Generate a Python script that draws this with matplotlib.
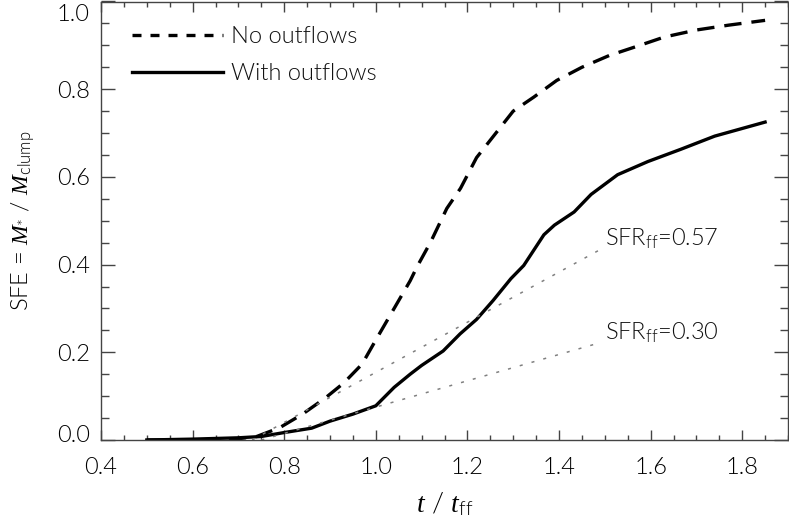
import matplotlib
matplotlib.use("Agg")
import matplotlib.pyplot as plt
import matplotlib.transforms as mtransforms
from matplotlib.lines import Line2D
from matplotlib.ticker import MultipleLocator

# ---- data ----
t_no = [0.50, 0.60, 0.70, 0.74, 0.79, 0.84, 0.89, 0.93, 0.97, 1.00, 1.04, 1.075,
        1.09, 1.12, 1.155, 1.185, 1.22, 1.26, 1.30, 1.345, 1.395, 1.45, 1.51,
        1.565, 1.63, 1.70, 1.77, 1.85]
sfe_no = [0.0, 0.0, 0.003, 0.008, 0.028, 0.059, 0.096, 0.13, 0.173, 0.228, 0.30,
          0.363, 0.395, 0.452, 0.528, 0.574, 0.644, 0.697, 0.75, 0.782, 0.82,
          0.85, 0.877, 0.896, 0.919, 0.935, 0.946, 0.957]

t_with = [0.50, 0.60, 0.70, 0.75, 0.80, 0.86, 0.90, 0.95, 1.00, 1.04, 1.075,
          1.10, 1.147, 1.184, 1.22, 1.256, 1.295, 1.323, 1.367, 1.39, 1.433,
          1.47, 1.528, 1.594, 1.666, 1.74, 1.85]
sfe_with = [0.0, 0.002, 0.005, 0.008, 0.017, 0.027, 0.043, 0.059, 0.078, 0.12,
            0.15, 0.17, 0.203, 0.242, 0.275, 0.318, 0.368, 0.398, 0.468, 0.49,
            0.52, 0.56, 0.605, 0.635, 0.663, 0.693, 0.725]

fit_hi_t = [0.73, 1.50]
fit_hi_sfe = [0.0, 0.44]
fit_lo_t = [0.75, 1.49]
fit_lo_sfe = [0.0, 0.222]

labels = ["No outflows", "With outflows"]
fit_labels = [r"SFR$_{\mathrm{ff}}$=0.57", r"SFR$_{\mathrm{ff}}$=0.30"]
fit_label_pos = [(1.50, 0.459), (1.50, 0.245)]

# ---- style ----
FONT = "Lato"
W = 300
plt.rcParams["font.family"] = [FONT, "DejaVu Sans"]
plt.rcParams["font.weight"] = W
plt.rcParams["axes.labelweight"] = W
plt.rcParams["mathtext.fontset"] = "custom"
plt.rcParams["mathtext.rm"] = FONT + ":weight=300"
plt.rcParams["mathtext.it"] = "Liberation Serif:italic"
plt.rcParams["mathtext.default"] = "it"
plt.rcParams["text.color"] = "#111111"
FS = 17

fig = plt.figure(figsize=(7.89, 5.29), dpi=100)
ax = fig.add_axes([101/789, (529-440)/529, (788-101)/789, (440-1.5)/529])

lw = 2.4
ax.plot(t_no, sfe_no, color="black", lw=lw, dashes=(5.2, 3.0))
ax.plot(t_with, sfe_with, color="black", lw=lw)
ax.plot(fit_hi_t, fit_hi_sfe, color="#808080", lw=1.1, dashes=(2, 6))
ax.plot(fit_lo_t, fit_lo_sfe, color="#808080", lw=1.1, dashes=(2, 6))

for lab, (x, y) in zip(fit_labels, fit_label_pos):
    ax.text(x, y, lab, fontsize=FS, ha="left", va="center", fontweight=W)

handles = [Line2D([], [], color="black", lw=lw, dashes=(2.7, 2.7)),
           Line2D([], [], color="black", lw=lw)]
leg = ax.legend(handles, labels, loc="upper left", frameon=False, fontsize=FS,
                handlelength=3.85, handletextpad=0.35, labelspacing=0.66,
                bbox_to_anchor=(0.045, 0.943), borderaxespad=0.0, borderpad=0.0)
for txt in leg.get_texts():
    txt.set_fontweight(W)

ax.set_xlim(0.4, 1.9)
ax.set_ylim(0.0, 1.0)
ax.xaxis.set_major_locator(MultipleLocator(0.2))
ax.xaxis.set_minor_locator(MultipleLocator(0.05))
ax.yaxis.set_major_locator(MultipleLocator(0.2))
ax.yaxis.set_minor_locator(MultipleLocator(0.05))
ax.xaxis.set_major_formatter(plt.FuncFormatter(lambda v, p: f"{v:.1f}"))
ax.yaxis.set_major_formatter(plt.FuncFormatter(lambda v, p: f"{v:.1f}"))

sc = "#444444"
for s in ax.spines.values():
    s.set_color(sc)
    s.set_linewidth(1.0)
ax.tick_params(axis="both", which="both", direction="in", top=True, right=True,
               color=sc, width=1.0, labelsize=FS)
ax.tick_params(axis="x", which="major", length=7.2, pad=12)
ax.tick_params(axis="x", which="minor", length=3.6)
ax.tick_params(axis="y", which="major", length=10, pad=8)
ax.tick_params(axis="y", which="minor", length=5.8)
for lab in ax.get_xticklabels() + ax.get_yticklabels():
    lab.set_fontweight(W)

ax.set_xlabel(r"$t$ / $t_{\mathrm{ff}}$", fontsize=FS + 3, labelpad=9, fontweight=W)
ax.set_ylabel(r"SFE = $M_{*}$ / $M_{\mathrm{clump}}$", fontsize=FS, labelpad=14,
              fontweight=W)

# shift the extreme y tick labels inside, as in the reference
fig.canvas.draw()
yticks = ax.yaxis.get_major_ticks()
yvals = ax.get_yticks()
for tk, v in zip(yticks, yvals):
    if abs(v - 1.0) < 1e-6:
        dy = -11
    elif abs(v) < 1e-6:
        dy = 6
    else:
        continue
    off = mtransforms.ScaledTranslation(0, dy / 100, fig.dpi_scale_trans)
    tk.label1.set_transform(tk.label1.get_transform() + off)

fig.savefig("out.png", dpi=100)
